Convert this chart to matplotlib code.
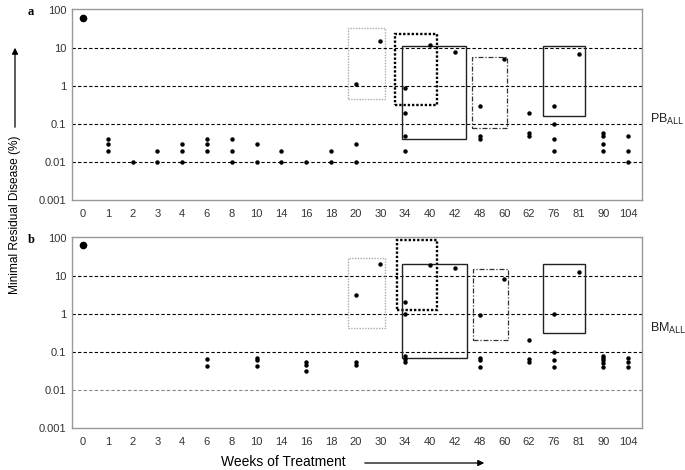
import matplotlib
matplotlib.use("Agg")
import matplotlib.pyplot as plt
from matplotlib.patches import Rectangle, FancyArrowPatch

plt.rcParams['font.family'] = ['Liberation Sans', 'DejaVu Sans']

# week categories on the x axis (evenly spaced, not to scale)
weeks = [0, 1, 2, 3, 4, 6, 8, 10, 14, 16, 18, 20, 30, 34, 40, 42, 48, 60, 62, 76, 81, 90, 104]

# panel a - peripheral blood
pb_weeks = [0, 1, 1, 1, 2, 3, 3, 4, 4, 4, 6, 6, 6, 8, 8, 8, 10, 10, 14, 14, 16, 18, 18,
            20, 20, 20, 30, 34, 34, 34, 34, 40, 42, 48, 48, 48, 60, 62, 62, 62,
            76, 76, 76, 76, 81, 90, 90, 90, 90, 104, 104, 104]
pb_mrd = [60, 0.04, 0.03, 0.02, 0.01, 0.02, 0.01, 0.03, 0.02, 0.01, 0.04, 0.03, 0.02,
          0.04, 0.02, 0.01, 0.03, 0.01, 0.02, 0.01, 0.01, 0.02, 0.01,
          1.1, 0.03, 0.01, 15, 0.9, 0.2, 0.05, 0.02, 12, 8, 0.3, 0.05, 0.04, 5,
          0.2, 0.058, 0.05, 0.3, 0.1, 0.04, 0.02, 7, 0.058, 0.05, 0.03, 0.02,
          0.05, 0.02, 0.01]

# panel b - bone marrow
bm_weeks = [0, 6, 6, 10, 10, 10, 16, 16, 16, 20, 20, 20, 30, 34, 34, 34, 34, 34, 40, 42,
            48, 48, 48, 48, 60, 62, 62, 62, 76, 76, 76, 76, 81,
            90, 90, 90, 90, 90, 104, 104, 104]
bm_mrd = [64, 0.067, 0.042, 0.07, 0.062, 0.042, 0.055, 0.045, 0.031, 3.1, 0.055, 0.045,
          20, 2.1, 1.0, 0.08, 0.064, 0.055, 19, 16.6,
          0.94, 0.07, 0.062, 0.041, 8.2, 0.21, 0.064, 0.055, 1.0, 0.1, 0.063, 0.041, 12.5,
          0.08, 0.07, 0.062, 0.053, 0.041, 0.07, 0.055, 0.041]

# grouping boxes: (x from, x to in category units, low, high)
pb_boxes = [(10.7, 12.2, 0.45, 33), (12.6, 14.3, 0.32, 23), (12.88, 15.47, 0.04, 11),
            (15.7, 17.1, 0.077, 5.7), (18.56, 20.24, 0.16, 11)]
bm_boxes = [(10.7, 12.2, 0.42, 30), (12.65, 14.3, 1.27, 90), (12.88, 15.5, 0.07, 21),
            (15.75, 17.15, 0.21, 15), (18.56, 20.24, 0.31, 21)]
box_styles = [dict(color='#aaaaaa', ls=(0, (1, 1)), lw=1.0),
              dict(color='black', ls=(0, (1, 0.8)), lw=1.7),
              dict(color='#222222', ls='-', lw=1.0),
              dict(color='#333333', ls=(0, (4, 1.5, 1, 1.5)), lw=0.9),
              dict(color='#222222', ls='-', lw=1.0)]

fig = plt.figure(figsize=(6.85, 4.70), dpi=100)
ax_a = fig.add_axes([0.105, 0.574, 0.832, 0.407])
ax_b = fig.add_axes([0.105, 0.089, 0.832, 0.407])


def draw_panel(ax, xw, yv, boxes, tag, side_label, side_y, low_grid):
    ax.set_yscale('log')
    ax.set_ylim(0.001, 106)
    ax.set_xlim(-0.45, len(weeks) - 0.45)
    for g in [10, 1, 0.1]:
        ax.axhline(g, color='black', lw=0.8, ls=(0, (3, 2)), zorder=1)
    ax.axhline(0.01, color=low_grid, lw=0.8, ls=(0, (3, 2)), zorder=1)
    xs = [weeks.index(w) for w in xw]
    sizes = [5.5 if w == 0 else 3.2 for w in xw]
    for x, y, s in zip(xs, yv, sizes):
        ax.plot(x, y, 'o', color='black', ms=s, mec='none', zorder=3)
    for (x0, x1, lo, hi), st in zip(boxes, box_styles):
        ax.add_patch(Rectangle((x0, lo), x1 - x0, hi - lo, fill=False,
                               edgecolor=st['color'], ls=st['ls'], lw=st['lw'], zorder=2))
    ax.set_xticks(range(len(weeks)))
    ax.set_xticklabels([str(w) for w in weeks])
    ax.set_yticks([0.001, 0.01, 0.1, 1, 10, 100])
    ax.set_yticklabels(['0.001', '0.01', '0.1', '1', '10', '100'])
    ax.minorticks_off()
    ax.tick_params(length=0, labelsize=8, colors='#333333')
    ax.tick_params(axis='x', pad=6)
    ax.tick_params(axis='y', pad=4)
    for sp in ax.spines.values():
        sp.set_color('#999999')
        sp.set_linewidth(1.0)
    ax.text(-0.066, 0.985, tag, transform=ax.transAxes, fontsize=9, fontweight='bold',
            family='Liberation Serif', ha='right', va='center')
    ax.text(1.014, side_y, side_label, transform=ax.transAxes, fontsize=9,
            ha='left', va='center', color='#222222')


draw_panel(ax_a, pb_weeks, pb_mrd, pb_boxes, 'a', r'PB$_{\mathrm{ALL}}$', 0.42, 'black')
draw_panel(ax_b, bm_weeks, bm_mrd, bm_boxes, 'b', r'BM$_{\mathrm{ALL}}$', 0.52, '#888888')

# axis titles with arrows
fig.text(15 / 685, 1 - 215 / 470, 'Minimal Residual Disease (%)', rotation=90,
         ha='center', va='center', fontsize=8.6)
fig.add_artist(FancyArrowPatch((15 / 685, 1 - 130 / 470), (15 / 685, 1 - 45 / 470),
                               transform=fig.transFigure, arrowstyle='-|>',
                               mutation_scale=9, lw=0.9, color='black'))
fig.text(283 / 685, 1 - 462 / 470, 'Weeks of Treatment', ha='center', va='center',
         fontsize=10)
fig.add_artist(FancyArrowPatch((362 / 685, 1 - 463 / 470), (487 / 685, 1 - 463 / 470),
                               transform=fig.transFigure, arrowstyle='-|>',
                               mutation_scale=9, lw=0.9, color='black'))

fig.savefig('out.png', dpi=100)
